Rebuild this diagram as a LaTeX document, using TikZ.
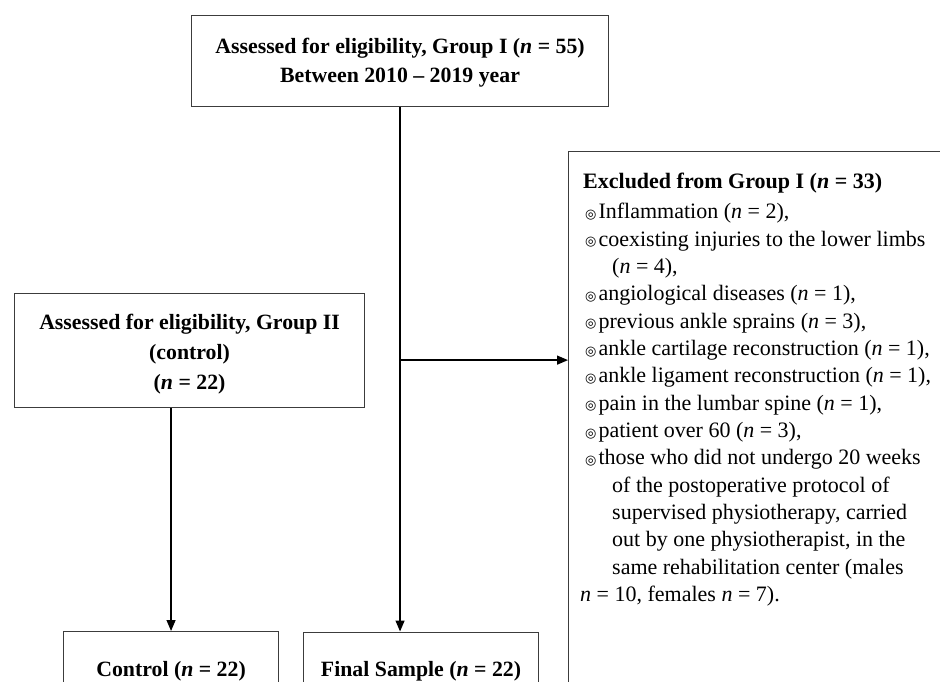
\documentclass[tikz,border=0pt]{standalone}
\usepackage{fontspec}
\setmainfont{Liberation Serif}
\newfontfamily\symfont{DejaVu Sans}
\usetikzlibrary{arrows.meta,calc}
\definecolor{boxgray}{RGB}{60,60,60}
\newcommand{\bul}{\hspace*{2pt}\raisebox{0.3pt}{\symfont\fontsize{13}{13}\selectfont ◎}\hspace{2pt}}
\newcommand{\ind}{\hspace*{29pt}}
\newcommand{\nn}{\textit{n}}
\begin{document}
\begin{tikzpicture}[x=1pt,y=-1pt,
  box/.style={draw=boxgray, line width=1.1pt, inner sep=0pt, align=center,
              font=\fontsize{21.8}{29.5}\selectfont\bfseries},
  conn/.style={line width=1.3pt, draw=black},
  arr/.style={conn, -{Triangle[length=11pt,width=9pt]}},
  listtext/.style={align=left, inner sep=0pt, font=\fontsize{22}{27.35}\selectfont},
  ]
\useasboundingbox (0,0) rectangle (940,682);
\clip (0,0) rectangle (940,682);
\fill[white] (0,0) rectangle (940,682);

\node[box, minimum width=417pt, minimum height=91pt, anchor=north west] (top) at (191,15)
  {\rule{0pt}{19pt}Assessed for eligibility, Group I (\nn{} = 55)\\Between 2010 -- 2019 year};
\node[box, minimum width=350pt, minimum height=114pt, anchor=north west,
      font=\fontsize{21.8}{30}\selectfont\bfseries] (grp2) at (14,293)
  {\rule{0pt}{22pt}Assessed for eligibility, Group II\\(control)\\(\nn{} = 22)};
\node[box, minimum width=215pt, minimum height=79pt, anchor=north west] (ctrl) at (63,631)
  {Control (\nn{} = 22)};
\node[box, minimum width=235pt, minimum height=78pt, anchor=north west] (final) at (303,631.5)
  {Final Sample (\nn{} = 22)};
\node[box, minimum width=400pt, minimum height=570pt, anchor=north west] (excl) at (568,150.7) {};
\node[listtext, anchor=north west] (excltext) at (583,173)
  {\textbf{Excluded from Group I (\nn{} = 33)}\\[2.7pt]
   \bul Inflammation (\nn{} = 2),\\
   \bul coexisting injuries to the lower limbs\\
   \ind(\nn{} = 4),\\
   \bul angiological diseases (\nn{} = 1),\\
   \bul previous ankle sprains (\nn{} = 3),\\
   \bul ankle cartilage reconstruction (\nn{} = 1),\\
   \bul ankle ligament reconstruction (\nn{} = 1),\\
   \bul pain in the lumbar spine (\nn{} = 1),\\
   \bul patient over 60 (\nn{} = 3),\\
   \bul those who did not undergo 20 weeks\\
   \ind of the postoperative protocol of\\
   \ind supervised physiotherapy, carried\\
   \ind out by one physiotherapist, in the\\
   \ind same rehabilitation center (males\\
   \hspace*{-3pt}\nn{} = 10, females \nn{} = 7).};

\path (top.south) ++(0,253) coordinate (branch);
\draw[arr] (top.south) -- (top.south |- final.north);
\draw[arr] (branch) -- (branch -| excl.west);
\draw[arr] (ctrl.north |- grp2.south) -- (ctrl.north);
\end{tikzpicture}
\end{document}
